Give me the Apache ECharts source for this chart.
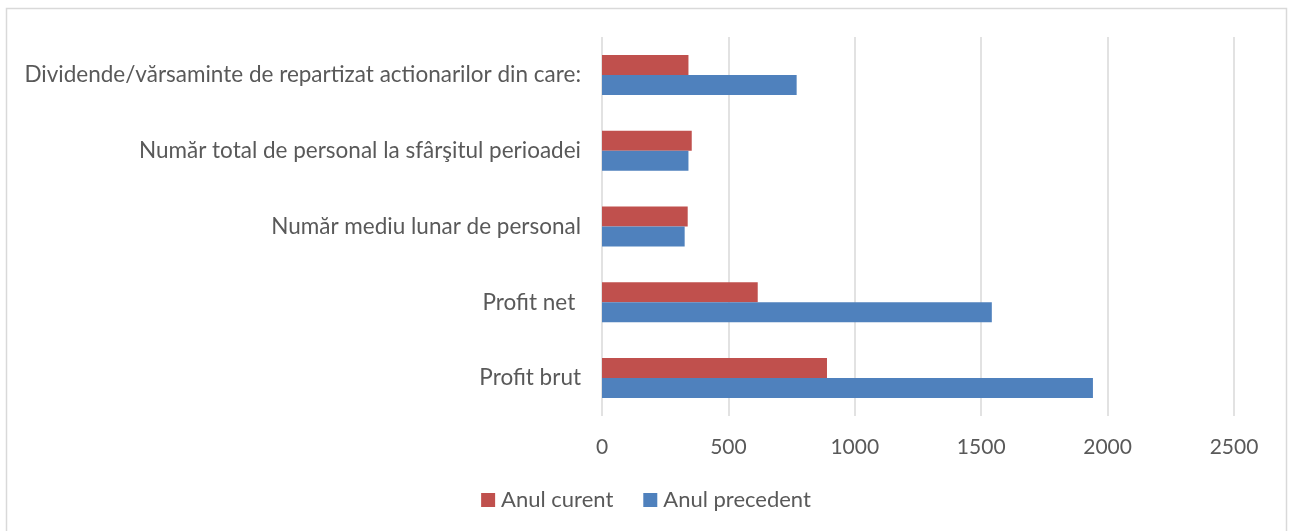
<!DOCTYPE html>
<html>
<head>
<meta charset="utf-8">
<script src="https://cdn.jsdelivr.net/npm/echarts@6/dist/echarts.min.js"></script>
<style>
html,body{margin:0;padding:0;background:#fff;}
#c{width:1292px;height:531px;}
</style>
</head>
<body>
<div id="c"></div>
<script>
var categories = [
  'Profit brut',
  'Profit net ',
  'Număr mediu lunar de personal',
  'Număr total de personal la sfârşitul perioadei',
  'Dividende/vărsaminte de repartizat actionarilor din care:'
];
var anulCurent = [890, 616, 339, 355, 342];
var anulPrecedent = [1942, 1542, 327, 342, 770];
var xTicks = { min: 0, max: 2500, interval: 500 };

var FONT = 'Lato, "Open Sans", sans-serif';
var chart = echarts.init(document.getElementById('c'), null, { renderer: 'canvas' });
chart.setOption({
  backgroundColor: '#ffffff',
  animation: false,
  graphic: [{
    type: 'rect',
    shape: { x: 6.5, y: 8.5, width: 1280, height: 540 },
    style: { fill: 'none', stroke: '#d9d9d9', lineWidth: 1.5 },
    silent: true
  }],
  grid: { left: 602, right: 58, top: 37, bottom: 115, containLabel: false },
  legend: {
    data: ['Anul curent', 'Anul precedent'],
    bottom: 15,
    left: 'center',
    itemWidth: 14,
    itemHeight: 14,
    itemGap: 30,
    icon: 'rect',
    textStyle: { fontFamily: FONT, fontSize: 22, color: '#595959', padding: [0, 0, 0, 1] }
  },
  xAxis: {
    type: 'value',
    min: xTicks.min, max: xTicks.max, interval: xTicks.interval,
    axisLine: { show: false },
    axisTick: { show: false },
    axisLabel: { fontFamily: FONT, fontSize: 21, color: '#595959', margin: 21, formatter: function (v) { return String(v); } },
    splitLine: { show: true, lineStyle: { color: '#d9d9d9', width: 1.5 } }
  },
  yAxis: {
    type: 'category',
    data: categories,
    axisLine: { show: false },
    axisTick: { show: false },
    axisLabel: { fontFamily: FONT, fontSize: 22.5, color: '#595959', margin: 21 }
  },
  series: [
    {
      name: 'Anul curent', type: 'bar', data: anulCurent,
      barWidth: 20, barGap: '0%', barCategoryGap: '48%',
      itemStyle: { color: '#c0504d' }
    },
    {
      name: 'Anul precedent', type: 'bar', data: anulPrecedent,
      barWidth: 20, barGap: '0%', barCategoryGap: '48%',
      itemStyle: { color: '#4f81bd' }
    }
  ]
});
</script>
</body>
</html>
